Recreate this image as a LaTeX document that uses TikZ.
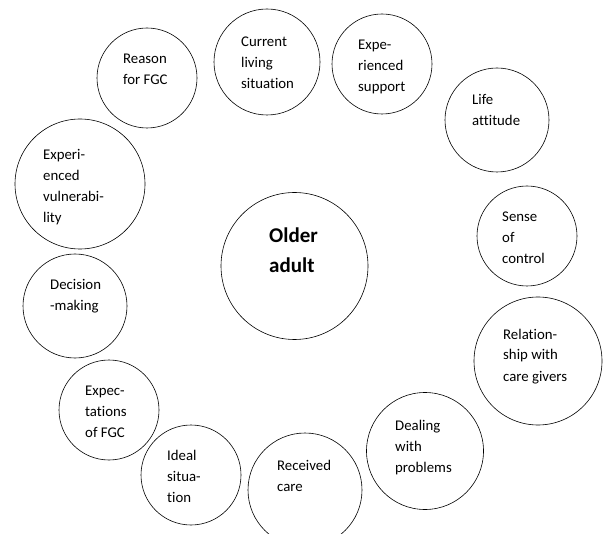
\documentclass[tikz,border=0pt]{standalone}
\usepackage{fontspec}
\setmainfont[Ligatures=NoCommon]{Carlito}
\usetikzlibrary{positioning}

\begin{document}
\begin{tikzpicture}[x=1pt,y=-1pt,
    bubble/.style={draw,circle,line width=0.6pt,inner sep=0pt},
    theme/.style={anchor=base west,align=left,inner sep=0pt,
        font=\fontsize{14.8}{21}\selectfont}]
    % Frame of the picture
    \clip (0,0) rectangle (610,534);

    % Centre (text placed by the baseline of its last line)
    \node[bubble,minimum size=147pt] (older) at (294.5,266) {};
    \node[theme,font=\fontsize{21}{30}\bfseries] (oldertxt) at (269,273) {Older\\adult};

    % Themes round the centre, clockwise from the top left
    \foreach \nm/\cx/\cy/\d/\tx/\ty/\txt in {
        reason/147/78/100/123/85/{Reason\\for FGC},
        living/267/62/106/241/89/{Current\\living\\situation},
        support/382/64/100/358/92/{Expe-\\rienced\\support},
        attitude/497/120/104/472/126/{Life\\attitude},
        control/527/236/100/502/264/{Sense\\of\\control},
        relation/538/361/128/503/381/{Relation-\\ship with\\care givers},
        dealing/425/451/117/395/472/{Dealing\\with\\problems},
        received/305/490/114/277/491/{Received\\care},
        ideal/191/475/100/167/502/{Ideal\\situa-\\tion},
        expect/109/410/100/85/437/{Expec-\\tations\\of FGC},
        decision/75/306/104/50/311/{Decision\\-making},
        vulnerab/80/184/130/43/223/{Experi-\\enced\\vulnerabi-\\lity}} {
        \node[bubble,minimum size=\d pt] (\nm) at (\cx,\cy) {};
        \node[theme] (\nm txt) at (\tx,\ty) {\txt};
    }
\end{tikzpicture}
\end{document}
